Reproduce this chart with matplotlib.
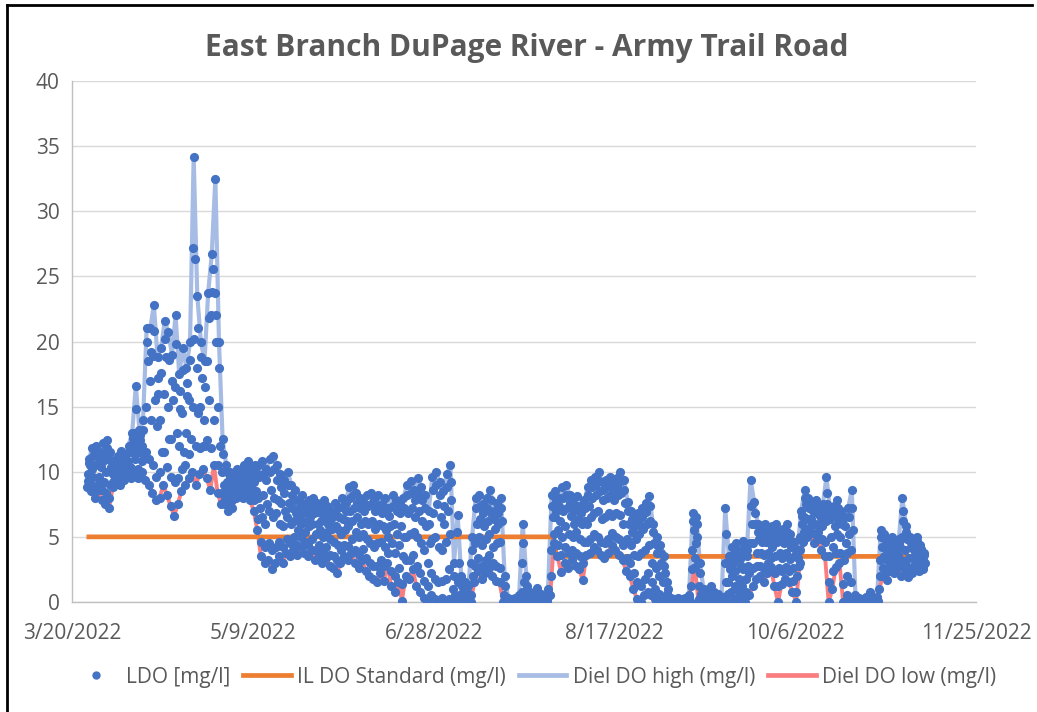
import matplotlib
matplotlib.use('Agg')
import matplotlib.pyplot as plt
import numpy as np
import pandas as pd
from matplotlib.lines import Line2D

# daily readings, one value per day starting 3/24/2022
first_day = '2022-03-24'

# diel high (afternoon reading)
do_high = [
    11.0, 11.8, 12.0, 11.5, 12.2, 12.4, 11.5, 10.8, 11.2, 11.6,
    11.0, 12.0, 13.0, 16.6, 13.2, 14.0, 21.0, 21.0, 22.8, 18.8,
    19.5, 21.6, 20.7, 19.0, 22.0, 17.5, 19.5, 18.0, 20.0, 34.2,
    23.5, 20.0, 18.5, 23.7, 26.7, 32.5, 20.0, 12.5, 10.5, 10.0,
    9.5, 10.2, 10.0, 10.5, 10.8, 10.3, 10.5, 10.5, 10.8, 10.2,
    11.0, 11.2, 10.5, 9.8, 9.4, 10.0, 9.0, 8.6, 7.8, 8.2,
    7.5, 7.8, 8.0, 7.6, 7.2, 7.8, 7.4, 7.0, 7.6, 7.2,
    8.0, 7.6, 8.8, 9.0, 8.4, 8.0, 7.6, 8.2, 8.4, 7.8,
    8.2, 7.5, 8.0, 7.2, 8.2, 7.8, 7.6, 8.0, 9.0, 9.3,
    8.6, 9.5, 8.8, 8.2, 7.0, 9.6, 10.0, 9.2, 8.5, 9.8,
    10.5, 3.0, 6.7, 2.0, 1.5, 1.2, 5.0, 8.0, 8.2, 7.5,
    8.0, 8.6, 7.0, 7.6, 8.0, 2.0, 0.3, 0.2, 0.3, 0.5,
    6.0, 2.0, 0.8, 0.5, 1.1, 0.6, 0.4, 1.0, 8.2, 8.5,
    8.0, 8.8, 9.0, 8.2, 7.6, 8.1, 7.4, 7.8, 8.8, 9.4,
    9.6, 10.0, 9.2, 9.4, 9.6, 9.0, 9.5, 10.0, 9.4, 7.7,
    7.0, 6.4, 6.8, 7.2, 7.6, 8.1, 6.0, 5.0, 4.4, 3.5,
    1.5, 0.3, 0.2, 0.3, 0.2, 0.3, 0.5, 6.8, 6.5, 3.0,
    1.0, 0.5, 1.2, 0.8, 0.6, 0.4, 7.2, 3.5, 4.2, 4.5,
    3.8, 4.7, 4.0, 9.4, 7.7, 6.0, 5.8, 6.0, 5.5, 5.8,
    6.0, 5.4, 5.6, 6.0, 5.2, 4.6, 4.0, 7.0, 8.6, 8.0,
    7.6, 7.8, 7.2, 7.5, 9.6, 7.0, 7.4, 7.8, 7.0, 6.5,
    7.2, 8.6, 0.5, 0.3, 0.2, 0.4, 0.8, 0.3, 0.4, 5.5,
    5.2, 4.8, 5.0, 4.6, 4.8, 8.0, 5.8, 5.0, 4.6, 5.0,
    4.4, 3.8,
]

# diel low (early morning reading)
do_low = [
    8.8, 8.5, 8.0, 8.6, 7.8, 7.5, 7.2, 8.8, 9.5, 9.0,
    9.4, 9.8, 9.5, 9.8, 9.5, 10.0, 9.4, 9.0, 8.4, 7.8,
    8.0, 9.0, 8.2, 7.4, 6.6, 7.5, 8.5, 9.0, 9.5, 10.0,
    9.0, 9.8, 10.2, 9.5, 8.6, 10.5, 8.4, 7.5, 7.5, 7.0,
    7.2, 8.0, 8.5, 8.0, 8.2, 7.8, 7.0, 5.5, 3.5, 3.0,
    3.2, 2.5, 3.0, 3.5, 3.0, 3.8, 3.5, 4.0, 3.6, 4.2,
    3.8, 3.5, 4.0, 3.2, 3.6, 3.0, 3.4, 2.8, 2.6, 2.2,
    3.0, 3.5, 3.2, 3.8, 3.0, 2.6, 3.2, 2.4, 2.0, 1.8,
    1.5, 2.2, 1.6, 3.0, 1.2, 0.8, 1.5, 0.1, 2.0, 1.8,
    2.5, 1.2, 0.8, 0.3, 0.0, 0.5, 0.2, 0.0, 0.3, 0.0,
    0.2, 0.0, 0.0, 0.0, 0.0, 0.0, 0.0, 1.5, 2.4, 1.8,
    2.2, 2.6, 2.0, 1.6, 1.5, 0.0, 0.0, 0.0, 0.0, 0.0,
    0.1, 0.0, 0.0, 0.0, 0.0, 0.0, 0.0, 0.0, 0.5, 4.5,
    3.5, 2.3, 3.0, 2.6, 3.2, 2.8, 2.5, 1.7, 3.6, 3.8,
    4.2, 4.0, 3.6, 3.4, 3.8, 4.4, 4.0, 3.6, 3.2, 2.4,
    2.0, 1.0, 0.2, 0.0, 0.5, 0.8, 0.5, 0.2, 0.0, 0.0,
    0.0, 0.0, 0.0, 0.0, 0.0, 0.0, 0.0, 1.2, 2.7, 0.0,
    0.0, 0.0, 0.0, 0.0, 0.0, 0.0, 0.0, 0.0, 0.0, 0.2,
    0.0, 0.3, 0.0, 0.5, 1.2, 1.8, 2.0, 1.5, 2.2, 2.7,
    1.2, 0.0, 1.4, 1.8, 1.5, 0.8, 0.0, 3.0, 4.6, 5.0,
    5.3, 4.5, 4.8, 4.0, 3.5, 0.0, 1.0, 2.7, 3.0, 0.0,
    0.5, 0.0, 0.0, 0.0, 0.0, 0.0, 0.0, 0.0, 0.0, 1.0,
    2.0, 1.7, 2.4, 2.2, 2.6, 2.0, 2.5, 1.9, 2.2, 2.7,
    2.4, 2.5,
]

# LDO reading around 08:30
ldo_early = [
    9.3, 9.0, 8.8, 9.1, 8.6, 8.4, 8.0, 9.2, 9.8, 9.4,
    9.7, 10.2, 10.3, 11.0, 10.2, 10.8, 11.5, 11.0, 10.5, 9.6,
    10.0, 11.5, 10.4, 9.6, 9.2, 9.5, 10.2, 10.5, 11.4, 15.0,
    12.0, 11.8, 12.0, 12.4, 11.8, 14.0, 10.5, 8.4, 8.0, 7.8,
    7.8, 8.5, 8.8, 8.6, 8.8, 8.3, 7.8, 6.4, 4.6, 4.2,
    4.5, 4.0, 4.2, 4.6, 4.2, 4.8, 4.5, 5.0, 4.4, 5.0,
    4.6, 4.4, 4.8, 4.0, 4.4, 3.9, 4.2, 3.6, 3.5, 3.2,
    4.0, 4.4, 4.3, 4.8, 4.0, 3.6, 4.1, 3.4, 3.0, 2.8,
    2.8, 3.2, 2.8, 3.8, 2.4, 2.0, 2.6, 1.4, 3.2, 3.2,
    3.6, 2.8, 2.2, 1.6, 1.2, 2.2, 1.8, 1.5, 1.6, 1.8,
    2.5, 0.2, 0.4, 0.1, 0.1, 0.1, 0.5, 2.8, 3.4, 2.8,
    3.2, 3.6, 3.0, 2.8, 2.6, 0.1, 0.0, 0.0, 0.0, 0.0,
    0.8, 0.1, 0.0, 0.0, 0.0, 0.0, 0.0, 0.1, 2.0, 5.2,
    4.4, 3.6, 4.2, 3.8, 4.0, 3.8, 3.5, 3.0, 4.6, 4.8,
    5.2, 5.0, 4.6, 4.5, 4.8, 5.3, 5.0, 4.8, 4.4, 3.4,
    3.0, 2.2, 1.5, 1.2, 1.8, 2.2, 1.5, 1.0, 0.6, 0.4,
    0.1, 0.0, 0.0, 0.0, 0.0, 0.0, 0.0, 2.5, 3.4, 0.2,
    0.0, 0.0, 0.1, 0.0, 0.0, 0.0, 0.4, 0.6, 0.8, 1.2,
    0.8, 1.2, 0.8, 2.2, 2.6, 2.8, 2.8, 2.5, 3.0, 3.4,
    2.2, 1.2, 2.4, 2.7, 2.4, 1.6, 0.8, 4.0, 5.4, 5.6,
    5.8, 5.2, 5.4, 4.8, 4.6, 1.5, 2.4, 3.8, 3.8, 1.4,
    2.0, 1.5, 0.0, 0.0, 0.0, 0.0, 0.1, 0.0, 0.0, 2.0,
    2.6, 2.4, 2.9, 2.7, 3.0, 3.2, 3.0, 2.5, 2.7, 3.1,
    2.9, 2.8,
]

# LDO reading around 11:00
ldo_am = [
    9.8, 10.2, 10.5, 9.6, 10.8, 10.0, 9.0, 9.8, 10.2, 10.4,
    10.0, 10.8, 11.5, 13.0, 11.5, 12.0, 15.0, 17.0, 18.9, 13.5,
    14.0, 16.0, 15.0, 12.5, 16.5, 12.0, 14.5, 13.0, 15.5, 27.2,
    18.0, 15.0, 14.0, 18.5, 22.0, 23.7, 15.0, 10.0, 9.0, 8.5,
    8.4, 9.0, 9.2, 9.5, 9.4, 9.0, 9.2, 8.0, 6.5, 6.0,
    7.0, 6.5, 6.8, 6.0, 5.8, 6.5, 6.0, 6.2, 5.5, 6.0,
    5.4, 5.8, 6.0, 5.2, 5.5, 5.0, 5.4, 4.8, 4.6, 4.4,
    5.2, 5.5, 5.8, 6.2, 5.4, 5.0, 5.2, 4.8, 4.5, 4.2,
    4.5, 4.6, 4.2, 5.0, 4.5, 3.8, 4.4, 3.5, 5.0, 5.2,
    5.4, 5.0, 4.5, 4.0, 3.0, 4.8, 5.0, 4.2, 4.0, 4.6,
    5.2, 1.0, 5.4, 0.6, 0.4, 0.3, 3.0, 4.5, 5.0, 4.4,
    4.8, 5.2, 4.2, 4.5, 4.6, 0.5, 0.1, 0.0, 0.1, 0.2,
    3.0, 0.6, 0.2, 0.1, 0.4, 0.2, 0.1, 0.3, 4.0, 6.5,
    5.5, 5.0, 5.8, 5.2, 5.0, 5.4, 4.8, 4.6, 6.0, 6.5,
    6.8, 7.0, 6.4, 6.5, 6.8, 6.6, 6.8, 6.7, 6.0, 4.8,
    4.4, 3.6, 3.5, 3.8, 4.0, 4.4, 3.0, 2.6, 2.0, 1.5,
    0.6, 0.1, 0.1, 0.1, 0.0, 0.1, 0.2, 4.0, 4.5, 1.2,
    0.3, 0.2, 0.5, 0.3, 0.2, 0.1, 3.0, 1.5, 2.0, 2.4,
    1.8, 2.5, 1.8, 4.5, 4.5, 3.8, 3.8, 3.6, 3.8, 4.2,
    3.5, 2.6, 3.4, 3.8, 3.3, 2.6, 2.0, 5.0, 6.5, 6.4,
    6.4, 6.0, 6.0, 5.8, 6.2, 3.5, 4.2, 5.2, 5.0, 3.2,
    3.8, 4.0, 0.2, 0.1, 0.1, 0.1, 0.4, 0.1, 0.2, 3.2,
    3.5, 3.2, 3.6, 3.4, 3.6, 5.0, 4.0, 3.4, 3.4, 3.8,
    3.4, 3.2,
]

# LDO reading around 18:00
ldo_eve = [
    10.7, 11.2, 11.4, 11.0, 11.5, 11.8, 10.9, 10.3, 10.9, 11.1,
    10.8, 11.5, 12.6, 14.8, 12.8, 13.2, 20.0, 19.2, 20.8, 17.2,
    17.6, 20.2, 18.6, 17.0, 19.8, 16.2, 17.8, 16.8, 18.6, 20.2,
    21.0, 18.8, 16.5, 21.8, 23.8, 22.0, 18.0, 11.4, 10.0, 9.6,
    9.2, 9.8, 9.6, 10.0, 10.4, 9.8, 10.0, 9.6, 9.8, 9.4,
    10.0, 10.2, 9.4, 8.8, 8.4, 9.0, 8.2, 7.8, 7.2, 7.5,
    7.0, 7.2, 7.4, 6.9, 6.8, 7.2, 6.8, 6.4, 6.9, 6.5,
    7.3, 7.0, 8.0, 8.2, 7.6, 7.2, 7.0, 7.4, 7.5, 7.0,
    7.4, 6.8, 7.2, 6.6, 7.4, 7.0, 6.8, 7.2, 8.2, 8.4,
    7.8, 8.4, 7.8, 7.2, 6.0, 8.6, 9.0, 8.2, 7.4, 8.8,
    9.2, 2.0, 1.5, 1.2, 0.8, 0.6, 4.0, 7.2, 7.4, 6.8,
    7.2, 7.8, 6.4, 6.8, 7.2, 1.2, 0.2, 0.1, 0.2, 0.3,
    4.5, 1.2, 0.5, 0.3, 0.8, 0.4, 0.3, 0.7, 7.4, 7.8,
    7.4, 8.0, 8.2, 7.6, 7.0, 7.4, 6.8, 7.2, 8.2, 8.8,
    9.0, 9.3, 8.6, 8.8, 9.0, 8.5, 8.9, 9.3, 8.6, 7.0,
    6.4, 5.8, 6.0, 6.5, 6.9, 7.4, 5.4, 4.4, 3.8, 2.8,
    1.0, 0.2, 0.1, 0.2, 0.1, 0.2, 0.3, 6.2, 6.0, 2.2,
    0.7, 0.3, 0.9, 0.5, 0.3, 0.3, 5.2, 3.0, 3.6, 4.0,
    3.3, 4.2, 3.5, 7.4, 6.8, 5.4, 5.2, 5.4, 5.0, 5.3,
    5.4, 4.8, 5.1, 5.4, 4.7, 4.2, 3.4, 6.6, 8.0, 7.6,
    7.3, 7.4, 6.9, 7.1, 8.4, 6.4, 6.8, 7.2, 6.6, 5.8,
    6.5, 7.2, 0.3, 0.2, 0.1, 0.3, 0.6, 0.2, 0.3, 5.0,
    4.8, 4.5, 4.7, 4.3, 4.5, 7.0, 5.4, 4.7, 4.3, 4.7,
    4.1, 3.6,
]

# LDO reading around 22:00
ldo_pm = [
    10.5, 9.6, 11.2, 10.4, 9.2, 11.0, 10.4, 9.6, 10.8, 9.8,
    10.6, 10.4, 12.2, 11.8, 12.4, 11.2, 18.5, 14.0, 15.5, 16.0,
    11.5, 18.8, 12.5, 15.5, 13.0, 14.8, 11.5, 15.8, 12.5, 26.3,
    14.5, 17.2, 12.0, 15.5, 25.6, 20.0, 12.0, 9.0, 9.2, 9.5,
    8.8, 9.5, 8.8, 9.2, 9.8, 8.5, 8.5, 7.2, 8.2, 7.5,
    8.6, 8.0, 7.8, 7.6, 7.0, 7.6, 7.2, 6.8, 6.4, 6.8,
    6.2, 6.5, 6.8, 6.0, 6.2, 6.4, 6.0, 5.6, 5.8, 5.5,
    6.4, 6.2, 7.0, 7.2, 6.5, 6.0, 6.2, 6.0, 6.2, 5.6,
    6.0, 5.8, 5.5, 5.8, 6.0, 5.2, 5.8, 5.0, 6.8, 7.2,
    6.5, 7.0, 6.2, 5.8, 4.5, 6.8, 7.5, 6.5, 6.0, 7.0,
    7.8, 0.5, 3.0, 0.3, 0.2, 0.2, 2.0, 6.0, 6.4, 5.8,
    6.2, 6.8, 5.6, 6.0, 6.2, 0.2, 0.0, 0.1, 0.0, 0.1,
    1.5, 0.3, 0.4, 0.2, 0.1, 0.3, 0.2, 0.5, 6.5, 7.0,
    6.2, 7.0, 7.2, 6.6, 6.0, 6.4, 6.0, 6.2, 7.4, 8.0,
    8.2, 8.5, 7.8, 8.0, 8.2, 7.8, 8.2, 8.4, 7.6, 6.0,
    5.4, 4.8, 5.2, 5.6, 6.0, 6.2, 4.5, 3.8, 3.0, 2.2,
    0.2, 0.0, 0.1, 0.0, 0.1, 0.0, 0.1, 5.5, 5.0, 0.6,
    0.2, 0.1, 0.2, 0.1, 0.4, 0.2, 1.5, 2.5, 3.0, 3.4,
    2.8, 3.6, 2.8, 6.0, 6.0, 4.8, 4.6, 4.6, 4.5, 5.0,
    4.6, 3.8, 4.5, 4.8, 4.2, 3.6, 2.8, 6.0, 7.5, 7.2,
    7.0, 6.8, 6.6, 6.6, 7.5, 5.0, 5.8, 6.4, 6.0, 4.5,
    5.2, 5.5, 0.1, 0.0, 0.1, 0.0, 0.2, 0.0, 0.1, 4.2,
    4.2, 4.0, 4.2, 4.0, 4.2, 6.2, 4.8, 4.2, 4.0, 4.4,
    3.9, 3.0,
]

# Illinois DO standard
std_dates = ['2022-03-24', '2022-07-31', '2022-08-01', '2022-11-10']
std_values = [5.0, 5.0, 3.5, 3.5]

x_ticks = ['2022-03-20', '2022-05-09', '2022-06-28', '2022-08-17', '2022-10-06', '2022-11-25']

days = pd.date_range(first_day, periods=len(do_high), freq='D')
t_low = days + pd.Timedelta(hours=6)
t_early = days + pd.Timedelta(hours=8.5)
t_am = days + pd.Timedelta(hours=11)
t_high = days + pd.Timedelta(hours=15.5)
t_eve = days + pd.Timedelta(hours=18)
t_pm = days + pd.Timedelta(hours=22)

ldo_t = np.concatenate([t.values for t in (t_low, t_early, t_am, t_high, t_eve, t_pm)])
ldo_v = np.concatenate([do_low, ldo_early, ldo_am, do_high, ldo_eve, ldo_pm])

fig = plt.figure(figsize=(10.37, 7.12), dpi=100)
ax = fig.add_axes([72 / 1037, 1 - 602 / 712, (976 - 72) / 1037, (602 - 81) / 712])

ax.plot(t_high, do_high, color='#A6BCE4', lw=3.0, zorder=2)
ax.plot(t_low, do_low, color='#FA7E80', lw=2.8, zorder=3)
ax.plot(pd.to_datetime(std_dates), std_values, color='#ED7D31', lw=3.4, zorder=4, solid_capstyle='butt')
ax.plot(ldo_t, ldo_v, 'o', color='#4472C4', ms=6.6, mew=0, zorder=5)

ax.set_ylim(0, 40)
ax.set_yticks(range(0, 41, 5))
tick_dates = pd.to_datetime(x_ticks)
ax.set_xlim(tick_dates[0], tick_dates[-1])
ax.set_xticks(tick_dates)
ax.set_xticklabels([f'{d.month}/{d.day}/{d.year}' for d in tick_dates])

ax.grid(axis='y', color='#D9D9D9', lw=1)
ax.set_axisbelow(True)
for s in ['top', 'right']:
    ax.spines[s].set_visible(False)
for s in ['left', 'bottom']:
    ax.spines[s].set_color('#BFBFBF')
    ax.spines[s].set_linewidth(1)
ax.tick_params(length=0, labelsize=15, labelcolor='#595959')
ax.tick_params(axis='x', pad=15)
ax.tick_params(axis='y', pad=9)
for lab in ax.get_xticklabels() + ax.get_yticklabels():
    lab.set_family('Open Sans')

fig.text(0.508, 1 - 48 / 712, 'East Branch DuPage River - Army Trail Road', ha='center', va='center',
         fontsize=21.5, fontweight='bold', color='#595959', family='Open Sans')

handles = [
    Line2D([], [], marker='o', ls='none', color='#4472C4', ms=5),
    Line2D([], [], color='#ED7D31', lw=3.4),
    Line2D([], [], color='#A6BCE4', lw=3.4),
    Line2D([], [], color='#FA7E80', lw=3.4),
]
labels = ['LDO [mg/l]', 'IL DO Standard (mg/l)', 'Diel DO high (mg/l)', 'Diel DO low (mg/l)']
fig.legend(handles, labels, loc='center', bbox_to_anchor=(0.515, 1 - 677 / 712), ncol=4,
           frameon=False, handlelength=2.3, handletextpad=0.3, columnspacing=0.6,
           prop={'family': 'Open Sans', 'size': 15}, labelcolor='#595959')

# outer frame edges
fig.add_artist(Line2D([7 / 1037, 7 / 1037], [0, 1 - 5 / 712], color='black', lw=2, transform=fig.transFigure))
fig.add_artist(Line2D([7 / 1037, 1032 / 1037], [1 - 5 / 712, 1 - 5 / 712], color='black', lw=2,
                      transform=fig.transFigure))

fig.savefig('out.png', dpi=100)
